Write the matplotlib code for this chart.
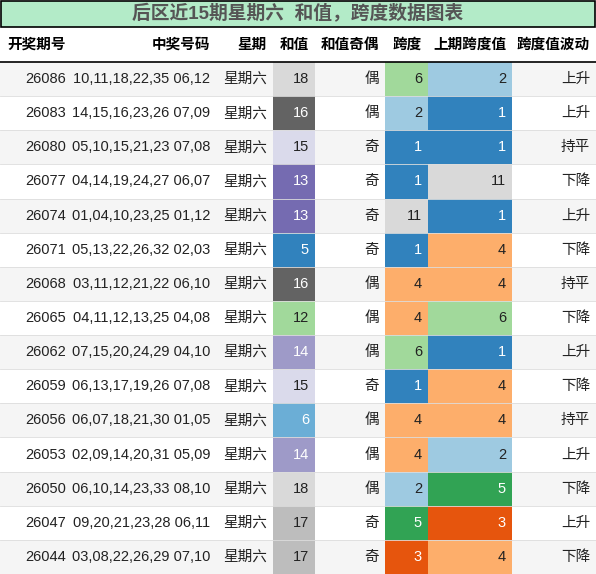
import matplotlib
matplotlib.use("Agg")
import matplotlib.pyplot as plt
from matplotlib.patches import Rectangle

plt.rcParams['font.family'] = ['Liberation Sans', 'Noto Sans CJK SC', 'DejaVu Sans']

title = "后区近15期星期六  和值，跨度数据图表"
headers = ["开奖期号", "中奖号码", "星期", "和值", "和值奇偶", "跨度", "上期跨度值", "跨度值波动"]
issues = ["26086","26083","26080","26077","26074","26071","26068","26065","26062","26059","26056","26053","26050","26047","26044"]
numbers = ["10,11,18,22,35 06,12","14,15,16,23,26 07,09","05,10,15,21,23 07,08","04,14,19,24,27 06,07",
           "01,04,10,23,25 01,12","05,13,22,26,32 02,03","03,11,12,21,22 06,10","04,11,12,13,25 04,08",
           "07,15,20,24,29 04,10","06,13,17,19,26 07,08","06,07,18,21,30 01,05","02,09,14,20,31 05,09",
           "06,10,14,23,33 08,10","09,20,21,23,28 06,11","03,08,22,26,29 07,10"]
weekday = ["星期六"] * 15
sums = [18,16,15,13,13,5,16,12,14,15,6,14,18,17,17]
parity = ["偶","偶","奇","奇","奇","奇","偶","偶","偶","奇","偶","偶","偶","奇","奇"]
spans = [6,2,1,1,11,1,4,4,6,1,4,4,2,5,3]
prev_spans = [2,1,1,11,1,4,4,6,1,4,4,2,5,3,4]
trend = ["上升","上升","持平","下降","上升","下降","持平","下降","上升","下降","持平","上升","下降","上升","下降"]

sum_colors = {18:'#d9d9d9',16:'#636363',15:'#dadaeb',13:'#756bb1',5:'#3182bd',12:'#a1d99b',
              14:'#9e9ac8',6:'#6baed6',17:'#bdbdbd'}
span_colors = {6:'#a1d99b',2:'#9ecae1',1:'#3182bd',11:'#d9d9d9',4:'#fdae6b',5:'#31a354',3:'#e6550d'}
dark = {'#636363','#756bb1','#3182bd','#9e9ac8','#6baed6','#31a354','#e6550d'}

W, H = 596, 574
fig = plt.figure(figsize=(W/100, H/100), dpi=100)
ax = fig.add_axes([0, 0, 1, 1])
ax.set_xlim(0, W); ax.set_ylim(H, 0); ax.axis('off')

edges = [0, 72, 216, 273, 315, 385, 428, 512, 596]
title_h, head_h = 28, 34
row_h = (H - title_h - head_h) / 15

ax.add_patch(Rectangle((1, 1), W-2, title_h-2, facecolor='#b3ebc8', edgecolor='black', lw=1.2))
ax.text(W/2, title_h/2, title, ha='center', va='center', fontsize=13.5, fontweight='bold', color='#555555')

hy = title_h + head_h/2
for i, h in enumerate(headers):
    if i == 0:
        ax.text(edges[0]+7, hy, h, ha='left', va='center', fontsize=10.5, fontweight='bold')
    else:
        ax.text(edges[i+1]-6, hy, h, ha='right', va='center', fontsize=10.5, fontweight='bold')
ax.plot([0, W], [title_h+head_h, title_h+head_h], color='black', lw=1.2)

fs = 10.5
for r in range(15):
    y0 = title_h + head_h + r*row_h
    yc = y0 + row_h/2
    if r % 2 == 0:
        ax.add_patch(Rectangle((0, y0), W, row_h, facecolor='#f5f5f5', lw=0))
    ax.plot([0, W], [y0+row_h, y0+row_h], color='#dddddd', lw=0.6)
    sc = sum_colors[sums[r]]
    ax.add_patch(Rectangle((edges[3], y0), edges[4]-edges[3], row_h, facecolor=sc, lw=0))
    c1 = span_colors[spans[r]]
    ax.add_patch(Rectangle((edges[5], y0), edges[6]-edges[5], row_h, facecolor=c1, lw=0))
    c2 = span_colors[prev_spans[r]]
    ax.add_patch(Rectangle((edges[6], y0), edges[7]-edges[6], row_h, facecolor=c2, lw=0))
    vals = [issues[r], numbers[r], weekday[r], str(sums[r]), parity[r], str(spans[r]), str(prev_spans[r]), trend[r]]
    cols = ['#222222']*8
    cols[3] = 'white' if sc in dark else '#222222'
    cols[5] = 'white' if c1 in dark else '#222222'
    cols[6] = 'white' if c2 in dark else '#222222'
    for i, v in enumerate(vals):
        ax.text(edges[i+1]-6, yc, v, ha='right', va='center', fontsize=fs, color=cols[i])

fig.savefig("out.png", dpi=100)
